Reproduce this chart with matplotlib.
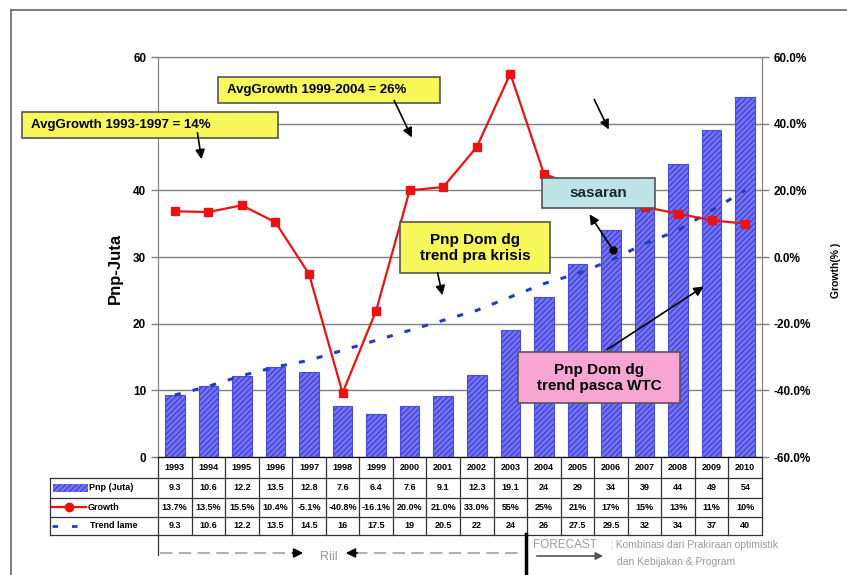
import numpy as np
import matplotlib.pyplot as plt
from matplotlib.patches import Rectangle, FancyArrowPatch
from matplotlib.lines import Line2D
import matplotlib.transforms as mtrans

plt.rcParams['font.family'] = ['Liberation Sans', 'DejaVu Sans']
plt.rcParams['hatch.linewidth'] = 0.8

years = ['1993', '1994', '1995', '1996', '1997', '1998', '1999', '2000', '2001',
         '2002', '2003', '2004', '2005', '2006', '2007', '2008', '2009', '2010']
pnp = [9.3, 10.6, 12.2, 13.5, 12.8, 7.6, 6.4, 7.6, 9.1, 12.3, 19.1, 24, 29, 34, 39, 44, 49, 54]
growth = [13.7, 13.5, 15.5, 10.4, -5.1, -40.8, -16.1, 20.0, 21.0, 33.0, 55, 25, 21, 17, 15, 13, 11, 10]
trend = [9.3, 10.6, 12.2, 13.5, 14.5, 16, 17.5, 19, 20.5, 22, 24, 26, 27.5, 29.5, 32, 34, 37, 40]

pnp_txt = ['9.3', '10.6', '12.2', '13.5', '12.8', '7.6', '6.4', '7.6', '9.1', '12.3', '19.1',
           '24', '29', '34', '39', '44', '49', '54']
growth_txt = ['13.7%', '13.5%', '15.5%', '10.4%', '-5.1%', '-40.8%', '-16.1%', '20.0%', '21.0%',
              '33.0%', '55%', '25%', '21%', '17%', '15%', '13%', '11%', '10%']
trend_txt = ['9.3', '10.6', '12.2', '13.5', '14.5', '16', '17.5', '19', '20.5', '22', '24',
             '26', '27.5', '29.5', '32', '34', '37', '40']

W, H = 847, 575
fig = plt.figure(figsize=(W / 100, H / 100), dpi=100)
fig.patch.set_facecolor('white')

def px(x, y):
    return (x / W, 1 - y / H)

L, R, T, B = 158, 762, 57, 457
ax = fig.add_axes([L / W, 1 - B / H, (R - L) / W, (B - T) / H])
ax2 = ax.twinx()

n = len(years)
x = np.arange(n)
bar_blue = '#7272f7'
ax.bar(x, pnp, width=0.58, color=bar_blue, edgecolor='#3c3cc8', hatch='//////', linewidth=0, zorder=2)
ax.bar(x, pnp, width=0.58, fill=False, edgecolor='#4a4ae0', linewidth=0.8, zorder=3)
ax.plot(x, trend, color='#1f3fc0', lw=2.2, dashes=(2, 4), zorder=4)
ax2.plot(x, growth, color='#ee1111', lw=1.6, marker='s', ms=6, zorder=5)

ax.set_xlim(-0.5, n - 0.5)
ax.set_ylim(0, 60)
ax2.set_ylim(-60, 60)
ax.set_yticks(range(0, 61, 10))
# the 50 label sits under the AvgGrowth box in the original
ax.set_yticklabels(['0', '10', '20', '30', '40', '', '60'])
ax2.set_yticks(range(-60, 61, 20))
ax2.set_yticklabels([f'{v:.1f}%' for v in range(-60, 61, 20)])
ax.set_xticks([])
ax.grid(axis='y', color='#808080', lw=1, zorder=0)
ax.set_axisbelow(True)
for a in (ax, ax2):
    for s in a.spines.values():
        s.set_color('#808080')
    a.spines['bottom'].set_color('black')
    a.tick_params(axis='y', length=5, color='#808080', labelsize=8.5, width=1)
    for lab in a.get_yticklabels():
        lab.set_fontweight('bold')
ax2.set_zorder(ax.get_zorder() + 1)
ax2.patch.set_visible(False)

fig.text(*px(115, 268), 'Pnp-Juta', rotation=90, ha='center', va='center', fontsize=12, fontweight='bold')
fig.text(*px(836, 270), 'Growth(% )', rotation=90, ha='center', va='center', fontsize=7.5, fontweight='bold')

# data table under the axis
tr = mtrans.blended_transform_factory(ax.transData, ax.transAxes)
def yf(py):
    return (B - py) / (B - T)

xl = (50 - L) / ((R - L) / n) - 0.5
lk = dict(transform=tr, clip_on=False, color='#333333', lw=0.9)
for py in (478, 498, 517, 535):
    ax.plot([xl, n - 0.5], [yf(py), yf(py)], **lk)
for i in range(n + 1):
    ax.plot([i - 0.5, i - 0.5], [yf(457), yf(535)], **lk)
ax.plot([xl, xl], [yf(478), yf(535)], **lk)
ax.plot([-0.5, -0.5], [yf(535), yf(555)], **lk)

tk = dict(transform=tr, ha='center', va='center', fontsize=6.5, fontweight='bold', clip_on=False)
for i in range(n):
    ax.text(i, yf(468), years[i], **tk)
    ax.text(i, yf(488), pnp_txt[i], **tk)
    ax.text(i, yf(507), growth_txt[i], **tk)
    ax.text(i, yf(526), trend_txt[i], **tk)

# legend keys of the table rows
fig.patches.append(Rectangle(px(53, 492), 35 / W, 8 / H, transform=fig.transFigure,
                             facecolor=bar_blue, edgecolor='#3c3cc8', hatch='//////', lw=0))
fig.lines.append(Line2D([52 / W, 86 / W], [px(0, 507)[1]] * 2, transform=fig.transFigure,
                        color='#ee1111', lw=1.6))
fig.lines.append(Line2D([69 / W], [px(0, 507)[1]], transform=fig.transFigure,
                        color='#ee1111', marker='o', ms=6))
fig.lines.append(Line2D([52 / W, 88 / W], [px(0, 526)[1]] * 2, transform=fig.transFigure,
                        color='#1f3fc0', lw=2, dashes=(2, 5)))
lab = dict(ha='left', va='center', fontsize=6.5, fontweight='bold')
fig.text(*px(89, 488), 'Pnp (Juta)', **lab)
fig.text(*px(88, 507), 'Growth', **lab)
fig.text(*px(90, 526), 'Trend lame', **lab)

# annotation boxes
def box(x0, y0, x1, y1, color):
    fig.patches.append(Rectangle(px(x0, y1), (x1 - x0) / W, (y1 - y0) / H,
                                 transform=fig.transFigure, facecolor=color,
                                 edgecolor='#555555', lw=1.2, zorder=6))

def arrow(x0, y0, x1, y1, ms=14, color='black'):
    fig.add_artist(FancyArrowPatch(px(x0, y0), px(x1, y1), transform=fig.transFigure,
                                   arrowstyle='-|>', mutation_scale=ms, color=color,
                                   lw=1.2, zorder=7))

yellow = '#f8f85a'
box(22, 112, 278, 138, yellow)
fig.text(*px(31, 125), 'AvgGrowth 1993-1997 = 14%', ha='left', va='center', fontsize=9.5,
         fontweight='bold', zorder=8)
box(218, 77, 440, 103, yellow)
fig.text(*px(227, 90), 'AvgGrowth 1999-2004 = 26%', ha='left', va='center', fontsize=9.5,
         fontweight='bold', zorder=8)
box(542, 178, 655, 208, '#bfe4e8')
fig.text(*px(598, 193), 'sasaran', ha='center', va='center', fontsize=11, fontweight='bold',
         color='#1a2a2a', zorder=8)
box(400, 222, 550, 273, yellow)
fig.text(*px(475, 248), 'Pnp Dom dg\ntrend pra krisis', ha='center', va='center', fontsize=11,
         fontweight='bold', zorder=8, linespacing=1.2)
box(518, 352, 680, 403, '#f7a6d4')
fig.text(*px(599, 378), 'Pnp Dom dg\ntrend pasca WTC', ha='center', va='center', fontsize=11,
         fontweight='bold', zorder=8, linespacing=1.2)

arrow(197, 130, 202, 162)
arrow(393, 98, 413, 140)
arrow(593, 97, 610, 132)
arrow(613, 250, 588, 212)
arrow(437, 270, 443, 298)
arrow(605, 351, 706, 285)
fig.lines.append(Line2D([613 / W], [px(0, 250)[1]], transform=fig.transFigure,
                        color='black', marker='o', ms=5, zorder=7))

# Riil / FORECAST notes
gray = '#9a9a9a'
fig.lines.append(Line2D([160 / W, 296 / W], [px(0, 553)[1]] * 2, transform=fig.transFigure,
                        color='#b0b0b0', lw=1.5, dashes=(6, 3)))
fig.lines.append(Line2D([355 / W, 518 / W], [px(0, 553)[1]] * 2, transform=fig.transFigure,
                        color='#b0b0b0', lw=1.5, dashes=(6, 3)))
arrow(290, 553, 306, 553)
arrow(360, 553, 343, 553)
fig.text(*px(329, 557), 'Riil', ha='center', va='center', fontsize=9, color=gray)
fig.lines.append(Line2D([526 / W, 526 / W], [px(0, 534)[1], 0], transform=fig.transFigure,
                        color='black', lw=2.5))
fig.text(*px(533, 545), 'FORECAST', ha='left', va='center', fontsize=8.5, color=gray)
arrow(534, 556, 606, 556, ms=11, color='#555555')
fig.text(*px(610, 545), ': Kombinasi dari Prakiraan optimistik', ha='left', va='center',
         fontsize=7.5, color=gray)
fig.text(*px(617, 562), 'dan Kebijakan & Program', ha='left', va='center', fontsize=7.5, color=gray)

# outer frame
fig.lines.append(Line2D([11 / W, 11 / W], [0, px(0, 10)[1]], transform=fig.transFigure,
                        color='#666666', lw=1.2))
fig.lines.append(Line2D([11 / W, 1], [px(0, 10)[1]] * 2, transform=fig.transFigure,
                        color='#666666', lw=1.2))

fig.savefig('out.png', dpi=100)
